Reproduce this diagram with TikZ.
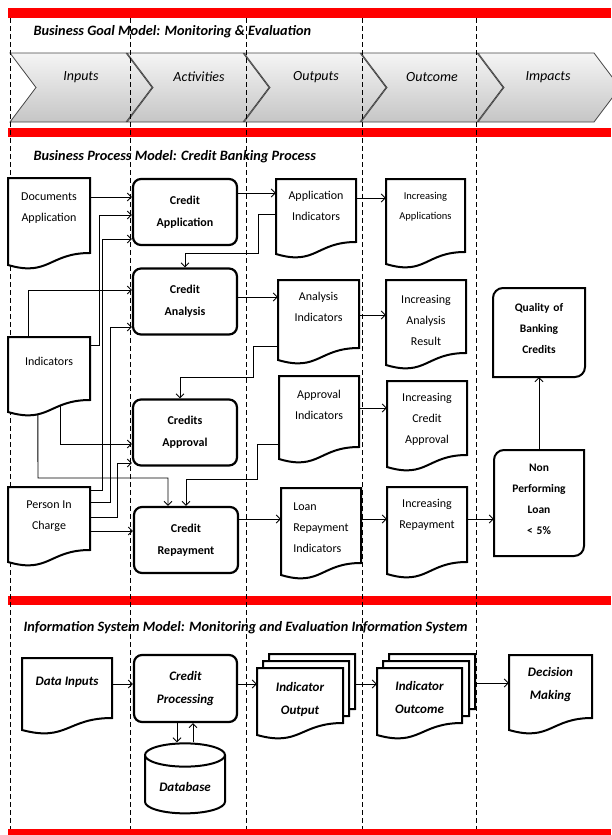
\documentclass[tikz,border=0pt]{standalone}
\usepackage{fontspec}
\setmainfont{Carlito}
\usetikzlibrary{arrows.meta, positioning, fit, calc, shapes.geometric}

\tikzset{
  redbar/.style={fill=red},
  lane/.style={line width=0.8pt, dash pattern=on 5pt off 3pt},
  chev/.style={top color=gray!8, bottom color=gray!45, draw=gray!55!black, line width=0.8pt},
  chevtext/.style={font=\fontsize{14}{16}\selectfont\itshape},
  modeltitle/.style={anchor=west, font=\fontsize{14.3}{16}\selectfont\bfseries\itshape},
  docline/.style={draw, fill=white, line width=2pt},
  doctext/.style={align=center, font=\fontsize{12}{21}\selectfont},
  proc/.style={draw, fill=white, line width=2.2pt, rounded corners=8pt, minimum width=104pt,
    minimum height=66pt, align=center, font=\fontsize{12}{22}\selectfont\bfseries},
  systext/.style={font=\fontsize{13}{23}\selectfont\bfseries\itshape},
  goalline/.style={draw, fill=white, line width=2pt},
  goaltext/.style={align=center, font=\fontsize{11.5}{21}\selectfont\bfseries},
  store/.style={cylinder, draw, fill=white, line width=2pt, shape border rotate=90, aspect=0.4,
    minimum width=80pt, minimum height=70pt, systext},
  flow/.style={line width=0.9pt, -{Straight Barb[length=4pt, width=8pt]}},
}

% page with a wavy bottom: name, x1, y1, x2, y2
\newcommand{\pagebox}[5]{%
  \node[fit={(#2,-#3) (#4,-#5)}, inner sep=0pt] (#1) {};
  \draw[docline] (#2,-#3) -- (#4,-#3) -- (#4,-#5)
    .. controls ({(#2+#4)/2},-#5) and ({(#2+#4)/2},{-#5-24}) .. (#2,{-#5-12}) -- cycle;}
% document: [opts] name, x1, y1, x2, y2, text y, text
\newcommand{\docbox}[8][]{%
  \pagebox{#2}{#3}{#4}{#5}{#6}
  \node[doctext,#1] (#2-t) at ({(#3+#5)/2},-#7) {#8};}
% goal box with two rounded corners: name, x1, y1, x2, y2, text
\newcommand{\goalbox}[6]{%
  \draw[goalline] (#2,-#5) -- (#2,{-#3-10}) arc[start angle=180, end angle=90, radius=10]
    -- (#4,-#3) -- (#4,{-#5+10}) arc[start angle=0, end angle=-90, radius=10] -- cycle;
  \node[fit={(#2,-#3) (#4,-#5)}, inner sep=0pt, goaltext] (#1) {#6};}

\begin{document}
\begin{tikzpicture}[x=1pt, y=1pt]
    \useasboundingbox (0,0) rectangle (611,-835);

    % red separators
    \fill[redbar] (8,-8) rectangle (611,-18);
    \fill[redbar] (8,-128) rectangle (611,-137);
    \fill[redbar] (8,-596) rectangle (611,-605);
    \fill[redbar] (8,-829) rectangle (611,-835);

    % Business goal model
    \node[modeltitle] (goaltitle) at (30,-32) {Business Goal Model: Monitoring \& Evaluation};
    \shade[chev] (10,-53) -- (126,-53) -- (152,-87.5) -- (126,-122) -- (10,-122) -- (36,-87.5) -- cycle;
    \shade[chev] (127,-53) -- (243,-53) -- (269,-87.5) -- (243,-122) -- (127,-122) -- (153,-87.5) -- cycle;
    \shade[chev] (244,-53) -- (360,-53) -- (386,-87.5) -- (360,-122) -- (244,-122) -- (270,-87.5) -- cycle;
    \shade[chev] (361,-53) -- (477,-53) -- (503,-87.5) -- (477,-122) -- (361,-122) -- (387,-87.5) -- cycle;
    \shade[chev] (478,-53) -- (594,-53) -- (620,-87.5) -- (594,-122) -- (478,-122) -- (504,-87.5) -- cycle;
    \node[chevtext] (inputs) at (81,-77) {Inputs};
    \node[chevtext] (activities) at (199,-77) {Activities};
    \node[chevtext] (outputs) at (316,-77) {Outputs};
    \node[chevtext] (outcome) at (432,-77) {Outcome};
    \node[chevtext] (impacts) at (548,-77) {Impacts};

    % lanes
    \draw[lane] (10,-18) -- (10,-829);
    \draw[lane] (130,-18) -- (130,-829);
    \draw[lane] (246,-18) -- (246,-829);
    \draw[lane] (362,-18) -- (362,-829);
    \draw[lane] (476,-18) -- (476,-829);

    % Business process model
    \node[modeltitle] (proctitle) at (30,-157) {Business Process Model: Credit Banking Process};
    % inputs
    \docbox{docapp}{8}{178}{90}{253}{208}{Documents\\Application}
    \docbox{indic}{8}{337}{90}{400}{361}{Indicators}
    \docbox{pic}{8}{487}{90}{550}{516}{Person In\\Charge}
    % activities
    \node[proc] (capp) at (185,-212) {Credit\\Application};
    \node[proc] (cana) at (185,-301.5) {Credit\\Analysis};
    \node[proc] (capr) at (185,-432.5) {Credits\\Approval};
    \node[proc] (crep) at (186,-540) {Credit\\Repayment};
    % outputs
    \docbox{appind}{276}{179}{356}{242}{206}{Application\\Indicators}
    \docbox{anaind}{278}{280}{359}{348}{307}{Analysis\\Indicators}
    \docbox{aprind}{279}{376}{359}{447}{405}{Approval\\Indicators}
    \docbox[align=left]{loanind}{281}{488}{361}{563}{528}{Loan\\Repayment\\Indicators}
    % outcome
    \docbox[font=\fontsize{10.5}{20}\selectfont]{incapp}{386}{179}{465}{252}{207}{Increasing\\Applications}
    \docbox{incana}{386}{280}{466}{353}{320}{Increasing\\Analysis\\Result}
    \docbox{incapr}{387}{381}{467}{455}{419}{Increasing\\Credit\\Approval}
    \docbox{increp}{387}{487}{467}{562}{515}{Increasing\\Repayment}
    % impacts
    \goalbox{quality}{493}{288}{585}{377}{Quality of\\Banking\\Credits}
    \goalbox{npl}{494}{450}{584}{556}{Non\\Performing\\Loan\\< 5\%}

    % inputs to activities
    \draw[flow] (docapp.east |- 0,-197) -- (capp.west |- 0,-197);
    \draw[flow] (indic.east |- 0,-345) -- (99,-345) |- (capp.west |- 0,-215);
    \draw[flow] (pic.east |- 0,-490) -- (102,-490) |- (capp.west |- 0,-239);
    \draw[flow] ($(indic.north west)+(21,0)$) |- (cana.west |- 0,-290);
    \draw[flow] (pic.east |- 0,-502) -- (110,-502) |- (cana.west |- 0,-327);
    \draw[flow] ($(indic.south west)+(53,-5)$) |- (capr.west |- 0,-444);
    \draw[flow] (pic.east |- 0,-517) -- (117,-517) |- (capr.west |- 0,-463);
    \draw[flow] ($(indic.south west)+(30,-14)$) -- (38,-478) -| (crep.north -| 168,0);
    \draw[flow] (pic.east |- 0,-531) -- (crep.west |- 0,-531);
    % outputs back to activities
    \draw[flow] (appind.west |- 0,-214) -- (258,-214) |- (185,-253) -- (cana.north -| 185,0);
    \draw[flow] (anaind.west |- 0,-346) -- (253,-346) |- (180,-377) -- (capr.north -| 180,0);
    \draw[flow] (aprind.west |- 0,-444) -- (257,-444) |- (186,-479) -- (crep.north -| 186,0);
    % activities to outputs
    \draw[flow] (capp.east |- 0,-193) -- (appind.west |- 0,-193);
    \draw[flow] (cana.east |- 0,-297) -- (anaind.west |- 0,-297);
    \draw[flow] (crep.east |- 0,-519) -- (loanind.west |- 0,-519);
    % outputs to outcome
    \draw[flow] (appind.east |- 0,-198) -- (incapp.west |- 0,-198);
    \draw[flow] (anaind.east |- 0,-315) -- (incana.west |- 0,-315);
    \draw[flow] (aprind.east |- 0,-408) -- (incapr.west |- 0,-408);
    \draw[flow] (loanind.east |- 0,-519) -- (increp.west |- 0,-519);
    % outcome to impacts
    \draw[flow] (increp.east |- 0,-519) -- (npl.west |- 0,-519);
    \draw[flow] (npl.north) -- (quality.south);

    % Information system model
    \node[modeltitle] (systitle) at (20,-628) {Information System Model: Monitoring and Evaluation Information System};
    \docbox[systext]{datain}{22}{658}{112}{718}{682}{Data Inputs}
    \node[proc, systext, minimum width=103pt, minimum height=67pt] (cproc) at (185.5,-688.5) {Credit\\Processing};
    \node[store] (db) at (185,-787) {Database};
    \pagebox{indoutb}{269}{654}{355}{709}
    \pagebox{indouta}{263}{661}{349}{716}
    \docbox[systext]{indout}{257}{668}{343}{723}{699}{Indicator\\Output}
    \pagebox{indoutcb}{389}{654}{475}{709}
    \pagebox{indoutca}{383}{661}{469}{716}
    \docbox[systext]{indoutc}{377}{668}{462}{723}{697.5}{Indicator\\Outcome}
    \docbox[systext]{decision}{509}{655}{592}{718}{684.5}{Decision\\Making}

    \draw[flow] (datain.east |- 0,-684) -- (cproc.west |- 0,-684);
    \draw[flow] (cproc.east |- 0,-684) -- (indout.west |- 0,-684);
    \draw[flow] (indoutb.east |- 0,-684) -- (indoutc.west |- 0,-684);
    \draw[flow] (indoutcb.east |- 0,-683) -- (decision.west |- 0,-683);
    \draw[flow] (cproc.south -| 177,0) -- (db.north -| 177,0);
    \draw[flow] (db.north -| 193,0) -- (cproc.south -| 193,0);
\end{tikzpicture}
\end{document}
